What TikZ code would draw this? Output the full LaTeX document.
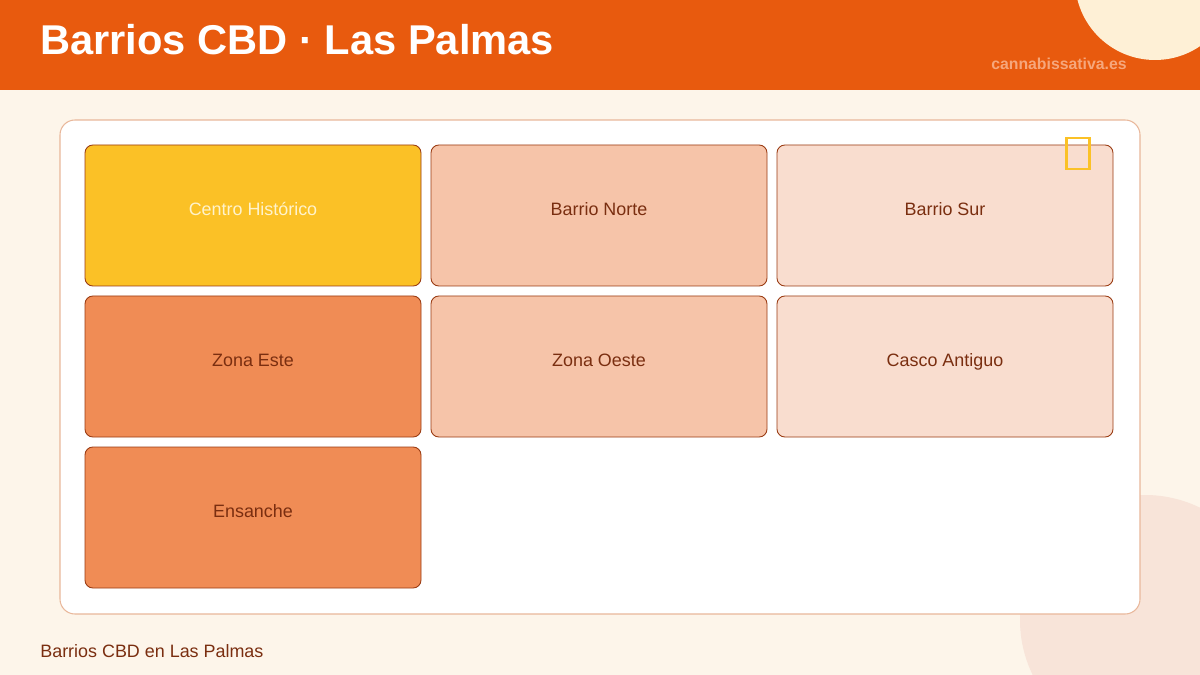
\documentclass[tikz,border=0pt]{standalone}
\usepackage{fontspec}
\setmainfont{Liberation Sans}
\usetikzlibrary{positioning}
\definecolor{header}{HTML}{E85A0E}
\definecolor{page}{HTML}{FDF5EA}
\definecolor{cream}{HTML}{FEF0D6}
\definecolor{blush}{HTML}{F8E4D9}
\definecolor{frame}{HTML}{E9B79A}
\definecolor{edge}{HTML}{9A3B12}
\definecolor{ink}{HTML}{7A2E10}
\definecolor{gold}{HTML}{FBC126}
\definecolor{deep}{HTML}{F08C55}
\definecolor{mid}{HTML}{F6C4A9}
\definecolor{pale}{HTML}{F9DDCF}
\definecolor{site}{HTML}{F6A77C}
\definecolor{goldtext}{HTML}{FFF3CC}
\tikzset{%
    x=0.02cm, y=-0.02cm,
    card/.style={%
        draw=edge, line width=0.5pt, rounded corners=4.5pt,
        minimum width=336*0.02cm, minimum height=141*0.02cm,
        text height=7pt, text depth=7pt,
        font=\fontsize{10.2}{12}\selectfont
    }
}

\begin{document}
\begin{tikzpicture}

    \useasboundingbox (0, 0) rectangle (1200, 675);
    \clip (0, 0) rectangle (1200, 675);

    %%%%%%%%%%%%
    % Background
    \fill[page] (0, 0) rectangle (1200, 675);
    \fill[blush] (1145, 620) circle[radius=125*0.02cm];
    \fill[header] (0, 0) rectangle (1200, 90);
    \begin{scope}
        \clip (0, 0) rectangle (1200, 90);
        \fill[cream] (1155, -20) circle[radius=80*0.02cm];
    \end{scope}

    % Header texts
    \node[anchor=base west, inner sep=0, text=white,
        font=\fontsize{23.7}{28}\selectfont\bfseries] (title) at (40, 55)
        {Barrios CBD · Las Palmas};
    \node[anchor=base east, inner sep=0, text=site,
        font=\fontsize{9}{11}\selectfont\bfseries] (site) at (1127, 70)
        {cannabissativa.es};

    %%%%%%%%%%%%
    % Panel
    \draw[fill=white, draw=frame, line width=0.6pt, rounded corners=8.5pt]
        (60, 120) rectangle (1140, 614);

    % Cards
    \foreach \col/\row/\name/\colour/\txt/\lab in {%
        0/0/centro/gold/goldtext/{Centro Histórico},
        1/0/norte/mid/ink/{Barrio Norte},
        2/0/sur/pale/ink/{Barrio Sur},
        0/1/este/deep/ink/{Zona Este},
        1/1/oeste/mid/ink/{Zona Oeste},
        2/1/casco/pale/ink/{Casco Antiguo},
        0/2/ensanche/deep/ink/{Ensanche}%
    }{%
        \node[card, fill=\colour, text=\txt] (\name)
            at (253 + \col * 346, 215.5 + \row * 151) {\lab};
    };

    % Missing glyph box
    \draw[gold, line width=1.7pt] (1066, 138) rectangle (1089, 169);

    %%%%%%%%%%%%
    % Footer
    \node[anchor=base west, inner sep=0, text=ink,
        font=\fontsize{10.2}{12}\selectfont] (footer) at (40, 657)
        {Barrios CBD en Las Palmas};

\end{tikzpicture}
\end{document}
